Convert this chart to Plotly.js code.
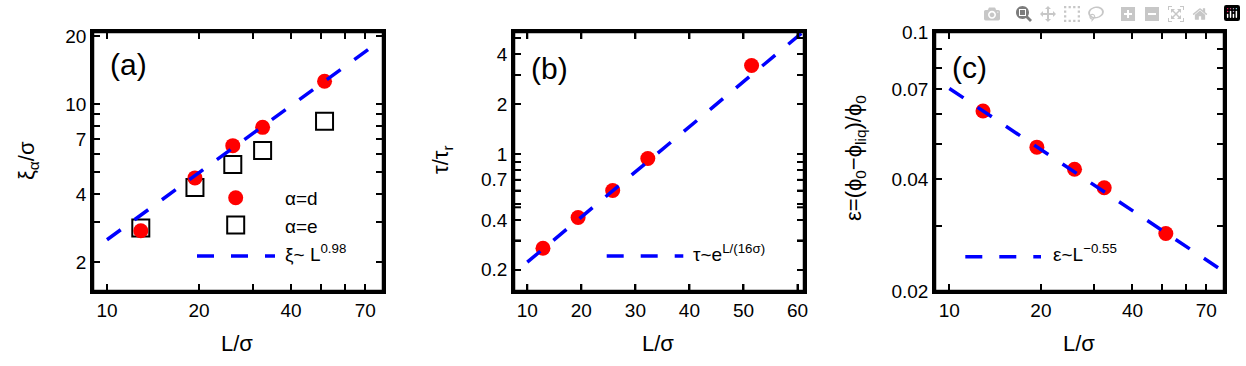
<!DOCTYPE html>
<html>
<head>
<meta charset="utf-8">
<script src="https://cdn.plot.ly/plotly-3.0.1.min.js"></script>
<style>
  html, body { margin: 0; padding: 0; background: #fff; }
  #chart { width: 1246px; height: 366px; }
</style>
</head>
<body>
<div id="chart"></div>
<script>
// system sizes L/sigma (same five systems in all panels)
const sizes = [12.9, 19.4, 25.8, 32.3, 51.5];

// (a) correlation lengths
const xiD = [2.75, 4.71, 6.54, 7.88, 12.6];
const xiE = [2.83, 4.27, 5.40, 6.23, 8.38];
const fitA_x = [10, 74];
const fitA_y = [2.51, 18.0];

// (b) relaxation time
const tau = [0.270, 0.414, 0.603, 0.94, 3.43];
const fitB_x = [10, 61];
const fitB_y = [0.2226, 5.46];

// (c) epsilon
const eps = [0.0612, 0.0489, 0.0426, 0.0380, 0.0286];
const fitC_x = [10, 79];
const fitC_y = [0.0704, 0.0227];

// tick positions / labels
const logXTicks = [10, 20, 30, 40, 50, 60, 70];
const logXText = ['10', '20', '', '40', '', '', '70'];
const aYTicks = [2, 3, 4, 5, 6, 7, 8, 9, 10, 20];
const aYText = ['2', '', '4', '', '', '7', '', '', '10', '20'];
const bXTicks = [10, 20, 30, 40, 50, 60];
const bXText = ['10', '20', '30', '40', '50', '60'];
const bYTicks = [0.2, 0.3, 0.4, 0.5, 0.6, 0.7, 0.8, 0.9, 1, 2, 3, 4, 5];
const bYText = ['0.2', '', '0.4', '', '', '0.7', '', '', '1', '2', '', '4', ''];
const cYTicks = [0.02, 0.03, 0.04, 0.05, 0.06, 0.07, 0.08, 0.09, 0.1];
const cYText = ['0.02', '', '0.04', '', '', '0.07', '', '', '0.1'];

const RED = '#ff0000';
const BLUE = '#0000ff';
const FONT = 'Liberation Sans, Arial, Helvetica, sans-serif';
const dashed = () => ({ color: BLUE, width: 3.5, dash: '17px,17px' });

const W = 1246, H = 366;
const px = x => x / W;
const py = y => 1 - y / H;

function axis(opts) {
  return Object.assign({
    showline: true,
    mirror: 'allticks',
    linecolor: 'black',
    linewidth: 2.5,
    ticks: 'inside',
    ticklen: 7,
    tickwidth: 2,
    tickcolor: 'black',
    showgrid: false,
    zeroline: false,
    tickfont: { family: FONT, size: 19, color: 'black' },
    tickmode: 'array'
  }, opts);
}

// box frame + inside ticks on all four sides, as shapes on the subplot axes
function frame(xa, ya, xvals, yvals, xlog, ylog) {
  const TL = 7;
  const out = [{ type: 'rect', xref: xa + ' domain', yref: ya + ' domain', x0: 0, x1: 1, y0: 0, y1: 1,
    line: { color: 'black', width: 2.5 }, fillcolor: 'rgba(0,0,0,0)', layer: 'above' }];
  const tick = { color: 'black', width: 2 };
  xvals.forEach(v => {
    const xv = xlog ? Math.log10(v) : v;
    out.push({ type: 'line', xref: xa, yref: ya + ' domain', ysizemode: 'pixel', yanchor: 0,
      x0: xv, x1: xv, y0: 0, y1: TL, line: tick, layer: 'above' });
    out.push({ type: 'line', xref: xa, yref: ya + ' domain', ysizemode: 'pixel', yanchor: 1,
      x0: xv, x1: xv, y0: -TL, y1: 0, line: tick, layer: 'above' });
  });
  yvals.forEach(v => {
    const yv = ylog ? Math.log10(v) : v;
    out.push({ type: 'line', xref: xa + ' domain', yref: ya, xsizemode: 'pixel', xanchor: 0,
      x0: 0, x1: TL, y0: yv, y1: yv, line: tick, layer: 'above' });
    out.push({ type: 'line', xref: xa + ' domain', yref: ya, xsizemode: 'pixel', xanchor: 1,
      x0: -TL, x1: 0, y0: yv, y1: yv, line: tick, layer: 'above' });
  });
  return out;
}

const yDomain = () => [py(291), py(32)];

const traces = [
  // panel a
  { x: sizes, y: xiE, xaxis: 'x', yaxis: 'y', type: 'scatter', mode: 'markers',
    marker: { symbol: 'square-open', size: 17, color: 'black', line: { width: 2, color: 'black' } } },
  { x: sizes, y: xiD, xaxis: 'x', yaxis: 'y', type: 'scatter', mode: 'markers',
    marker: { symbol: 'circle', size: 15, color: RED } },
  { x: fitA_x, y: fitA_y, xaxis: 'x', yaxis: 'y', type: 'scatter', mode: 'lines', line: dashed() },
  // panel b
  { x: sizes, y: tau, xaxis: 'x2', yaxis: 'y2', type: 'scatter', mode: 'markers',
    marker: { symbol: 'circle', size: 15, color: RED } },
  { x: fitB_x, y: fitB_y, xaxis: 'x2', yaxis: 'y2', type: 'scatter', mode: 'lines', line: dashed() },
  // panel c
  { x: sizes, y: eps, xaxis: 'x3', yaxis: 'y3', type: 'scatter', mode: 'markers',
    marker: { symbol: 'circle', size: 15, color: RED } },
  { x: fitC_x, y: fitC_y, xaxis: 'x3', yaxis: 'y3', type: 'scatter', mode: 'lines', line: dashed() }
];

function note(text, x, y, size, xanchor, angle) {
  return { text: text, x: px(x), y: py(y), xref: 'paper', yref: 'paper',
    xanchor: xanchor, yanchor: 'middle', showarrow: false, textangle: angle || 0,
    font: { family: FONT, size: size, color: 'black' } };
}

const legendKeys = [
  { type: 'circle', xref: 'paper', yref: 'paper', xsizemode: 'pixel', ysizemode: 'pixel',
    xanchor: px(235.7), yanchor: py(197.7), x0: -7.5, x1: 7.5, y0: -7.5, y1: 7.5,
    fillcolor: RED, line: { width: 0 } },
  { type: 'rect', xref: 'paper', yref: 'paper', xsizemode: 'pixel', ysizemode: 'pixel',
    xanchor: px(235.7), yanchor: py(225), x0: -8.5, x1: 8.5, y0: -8.5, y1: 8.5,
    fillcolor: 'rgba(0,0,0,0)', line: { width: 2, color: 'black' } },
  { type: 'line', xref: 'paper', yref: 'paper', x0: px(197), x1: px(275), y0: py(256), y1: py(256), line: dashed() },
  { type: 'line', xref: 'paper', yref: 'paper', x0: px(606.7), x1: px(683.3), y0: py(256), y1: py(256), line: dashed() },
  { type: 'line', xref: 'paper', yref: 'paper', x0: px(965.3), x1: px(1041), y0: py(256.7), y1: py(256.7), line: dashed() }
];

const layout = {
  width: W,
  height: H,
  margin: { l: 0, r: 0, t: 0, b: 0 },
  paper_bgcolor: 'white',
  plot_bgcolor: 'white',
  showlegend: false,

  xaxis: axis({
    type: 'log', domain: [px(93), px(383)], range: [Math.log10(9), Math.log10(80)],
    tickvals: logXTicks, ticktext: logXText, anchor: 'y'
  }),
  yaxis: axis({
    type: 'log', domain: yDomain(), range: [Math.log10(1.49), Math.log10(20.8)],
    tickvals: aYTicks, ticktext: aYText, anchor: 'x'
  }),

  xaxis2: axis({
    type: 'linear', domain: [px(514), px(804)], range: [7.54, 61.2],
    tickvals: bXTicks, ticktext: bXText, anchor: 'y2'
  }),
  yaxis2: axis({
    type: 'log', domain: yDomain(), range: [Math.log10(0.149), Math.log10(5.46)],
    tickvals: bYTicks, ticktext: bYText, anchor: 'x2'
  }),

  xaxis3: axis({
    type: 'log', domain: [px(935), px(1224)], range: [Math.log10(8.97), Math.log10(80)],
    tickvals: logXTicks, ticktext: logXText, anchor: 'y3'
  }),
  yaxis3: axis({
    type: 'log', domain: yDomain(), range: [Math.log10(0.02), Math.log10(0.1)],
    tickvals: cYTicks, ticktext: cYText, anchor: 'x3'
  }),

  shapes: [].concat(
    frame('x', 'y', logXTicks, aYTicks, true, true),
    frame('x2', 'y2', bXTicks, bYTicks, false, true),
    frame('x3', 'y3', logXTicks, cYTicks, true, true),
    legendKeys
  ),

  annotations: [
    // axis titles
    note('L/σ', 237, 343, 22, 'center'),
    note('L/σ', 658, 343, 22, 'center'),
    note('L/σ', 1079, 343, 22, 'center'),
    note('ξ<sub>α</sub>/σ', 28, 161, 22, 'center', -90),
    note('τ/τ<sub>r</sub>', 442, 160, 22, 'center', -90),
    note('ε=(ϕ<sub>0</sub>−ϕ<sub>liq</sub>)/ϕ<sub>0</sub>', 855, 158, 22, 'center', -90),
    // panel labels
    note('(a)', 128, 65, 30, 'center'),
    note('(b)', 549, 68, 30, 'center'),
    note('(c)', 969, 67, 30, 'center'),
    // legend texts
    note('α=d', 283, 198, 19, 'left'),
    note('α=e', 283, 226, 19, 'left'),
    note('ξ~ L<sup>0.98</sup>', 283, 253, 19, 'left'),
    note('τ~e<sup>L/(16σ)</sup>', 691, 253, 19, 'left'),
    note('ε~L<sup>−0.55</sup>', 1051, 253, 19, 'left')
  ]
};

Plotly.newPlot('chart', traces, layout);
</script>
</body>
</html>
